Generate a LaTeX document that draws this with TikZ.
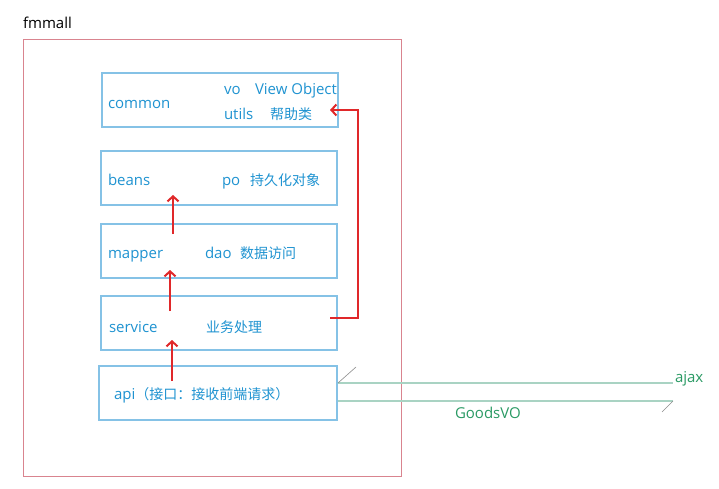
\documentclass[tikz,border=0pt]{standalone}
\usepackage{fontspec}
\setmainfont{Open Sans}
\newfontfamily\cjk{Noto Sans CJK SC}
\usetikzlibrary{arrows.meta}
\definecolor{tblue}{HTML}{1F93D1}
\definecolor{bborder}{HTML}{85C2E6}
\definecolor{frame}{HTML}{D9848F}
\definecolor{redarr}{HTML}{E0282A}
\definecolor{gline}{HTML}{A9D3C3}
\definecolor{gtext}{HTML}{2A9A64}
\definecolor{harp}{HTML}{8C8C8C}
\newcommand{\zh}[1]{{\cjk\fontsize{14}{16}\selectfont #1}}
\begin{document}
\begin{tikzpicture}[x=1pt,y=-1pt,
  every node/.style={inner sep=0pt, outer sep=0pt, font=\fontsize{15}{17}\selectfont},
  box/.style={draw=bborder, line width=1.1pt, anchor=north west, minimum width=236pt, minimum height=54pt},
  lbl/.style={text=tblue, anchor=base west},
  redline/.style={draw=redarr, line width=2pt, -{Straight Barb[length=5pt,width=11pt,line width=2pt]}},
  gl/.style={draw=gline, line width=1.6pt},
  hp/.style={draw=harp, line width=0.6pt}]
\useasboundingbox (0,0) rectangle (719,489);
\fill[white] (0,0) rectangle (719,489);

% outer frame
\node[draw=frame, line width=0.9pt, anchor=north west, minimum width=378pt, minimum height=437pt] (frame) at (23,39) {};
\node[anchor=base west] (title) at (23,29) {fmmall};

% boxes
\node[box] (common) at (102,73) {};
\node[box] (beans) at (101,151) {};
\node[box] (mapper) at (101,224) {};
\node[box] (service) at (101,296) {};
\node[box, minimum width=238pt] (api) at (99,366) {};

% labels
\node[lbl] (t1) at (108,109) {common};
\node[lbl] (t2) at (224,94.5) {vo};
\node[lbl] (t3) at (255,94.5) {View Object};
\node[lbl] (t4) at (224,120) {utils};
\node[lbl] (t5) at (270,120) {\zh{帮助类}};
\node[lbl] (t6) at (108,185) {beans};
\node[lbl] (t7) at (222,185) {po};
\node[lbl] (t8) at (250,185) {\zh{持久化对象}};
\node[lbl] (t9) at (108,258) {mapper};
\node[lbl] (t10) at (205,258) {dao};
\node[lbl] (t11) at (240,258) {\zh{数据访问}};
\node[lbl] (t12) at (109,332) {service};
\node[lbl] (t13) at (206,332) {\zh{业务处理}};
\node[lbl] (t14) at (114,399.5) {api\zh{（接口：接收前端请求）}};

% red arrows
\coordinate (r1s) at (172,381);
\coordinate (r1e) at (172,340);
\coordinate (r2s) at (170,311);
\coordinate (r2e) at (170,270);
\coordinate (r3s) at (173,234);
\coordinate (r3e) at (173,195);
\coordinate (r4s) at (330,318);
\coordinate (r4m1) at (358,318);
\coordinate (r4m2) at (358,110);
\coordinate (r4e) at (330,110);
\draw[redline] (r1s) -- (r1e);
\draw[redline] (r2s) -- (r2e);
\draw[redline] (r3s) -- (r3e);
\draw[redline] (r4s) -- (r4m1) -- (r4m2) -- (r4e);

% green request/response lines
\coordinate (g1a) at (338,383);
\coordinate (g1b) at (673,383);
\coordinate (g1h) at (356,367);
\coordinate (g2a) at (338,401);
\coordinate (g2b) at (673,401);
\coordinate (g2h) at (662,412);
\draw[gl] (g1a) -- (g1b);
\draw[hp] (g1a) -- (g1h);
\draw[gl] (g2a) -- (g2b);
\draw[hp] (g2b) -- (g2h);
\node[anchor=base west, text=gtext] (ajax) at (675,382) {ajax};
\node[anchor=base west, text=gtext] (goods) at (455,418) {GoodsVO};
\end{tikzpicture}
\end{document}
